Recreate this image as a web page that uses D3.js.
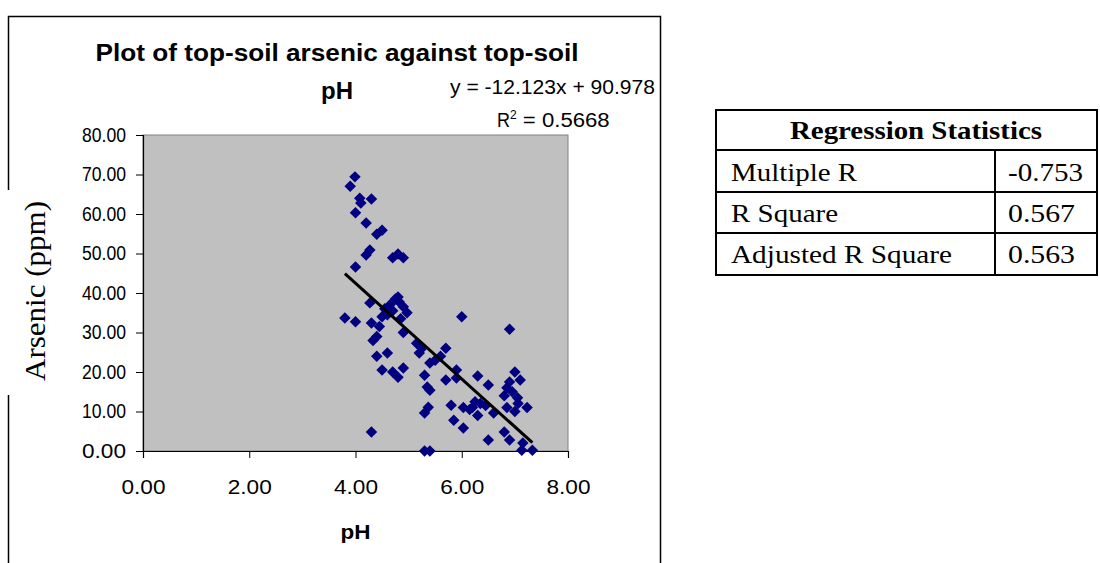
<!DOCTYPE html>
<html>
<head>
<meta charset="utf-8">
<script src="https://cdn.jsdelivr.net/npm/d3@7"></script>
<style>
  body { margin: 0; background: #fff; }
  svg { display: block; }
</style>
</head>
<body>
<div id="chart"></div>
<script>
// soil samples
var phValues = [3.99, 3.9, 4.08, 4.1, 4.3, 4.0, 4.2, 4.4, 4.5, 4.27, 4.2, 4.0, 4.8, 4.7, 4.9,
  4.27, 4.65, 4.75, 4.82, 4.9, 4.97, 4.7, 4.6, 4.5, 4.85, 4.55, 4.8,
  3.8, 4.0, 4.3, 4.33, 4.4, 4.4, 4.6, 4.5, 4.7, 4.8, 4.9, 4.9, 4.3, 4.45,
  5.15, 5.2, 5.4, 5.3, 5.35, 5.4, 5.37, 5.3, 5.3, 5.4, 5.7, 5.6, 5.7, 5.9, 5.9, 5.5, 5.25,
  6.0, 6.9, 6.3, 6.5, 7.0, 7.1, 6.85, 6.8, 5.8, 6.03, 6.2, 6.35, 6.3, 6.6, 6.85, 7.06, 7.23,
  5.85, 6.03, 6.5, 6.8, 6.9, 7.13, 7.33, 7.15, 6.95, 7.05, 6.9, 6.45, 6.25, 7.0, 6.15];
var arsenicValues = [69.4, 67, 64, 62.8, 63.8, 60.3, 57.7, 54.9, 55.9, 50.9, 49.6, 46.6, 49.9, 48.9, 48.9,
  37.5, 37, 38.5, 37.8, 36.5, 35, 35.5, 34.5, 34, 33.5, 36, 39,
  33.7, 32.7, 32.4, 28, 29, 24, 24.8, 20.5, 20, 18.7, 21, 30, 4.8, 31.5,
  27.3, 24.8, 22.3, 19.2, 16.2, 15.4, 11.1, 9.6, 0, 0, 26, 24, 18, 18.5, 20.5, 23, 26,
  34, 30.8, 19, 16.7, 20, 18, 16, 14, 11.6, 11, 11, 12, 9, 9.6, 11, 12, 11,
  7.8, 5.8, 2.8, 4.8, 2.8, 0.2, 0.2, 2, 15, 13.5, 17.5, 11.5, 12.5, 10, 10.5];

var xTicks = [0, 2, 4, 6, 8];
var yTicks = [0, 10, 20, 30, 40, 50, 60, 70, 80];

var slope = -12.123;
var intercept = 90.978;

var statNames = ['Multiple R', 'R Square', 'Adjusted R Square'];
var statValues = ['-0.753', '0.567', '0.563'];

var W = 1100, H = 563;

var svg = d3.select('#chart')
  .append('svg')
  .attr('width', W)
  .attr('height', H);

var sans = '"Liberation Sans", Arial, sans-serif';
var serif = '"Liberation Serif", "Times New Roman", serif';

// outer chart frame
svg.append('rect')
  .attr('x', 8.5).attr('y', 16.5)
  .attr('width', 652).attr('height', 600)
  .attr('fill', '#fff')
  .attr('stroke', '#000')
  .attr('stroke-width', 1.5);

var x = d3.scaleLinear().domain([0, 8]).range([143, 568]);
var y = d3.scaleLinear().domain([0, 80]).range([451, 135]);

// plot area
svg.append('rect')
  .attr('x', x(0)).attr('y', y(80))
  .attr('width', x(8) - x(0)).attr('height', y(0) - y(80))
  .attr('fill', '#c0c0c0')
  .attr('stroke', '#808080')
  .attr('stroke-width', 1);

var yAxis = svg.append('g')
  .attr('transform', `translate(${x(0)},0)`)
  .call(d3.axisLeft(y).tickValues(yTicks).tickSize(7).tickPadding(10).tickFormat(d3.format('.2f')));

var xAxis = svg.append('g')
  .attr('transform', `translate(0,${y(0)})`)
  .call(d3.axisBottom(x).tickValues(xTicks).tickSize(7).tickPadding(22).tickFormat(d3.format('.2f')));

[yAxis, xAxis].forEach(function(g) {
  g.select('.domain').attr('stroke', '#000').attr('stroke-width', 1.2);
  g.selectAll('.tick line').attr('stroke', '#000');
  g.selectAll('.tick text')
    .attr('fill', '#000')
    .attr('textLength', 44).attr('lengthAdjust', 'spacingAndGlyphs')
    .style('font-family', sans)
    .style('font-size', '20px');
});

// points
var pts = phValues.map(function(p, i) { return [p, arsenicValues[i]]; });
var diamond = d3.symbol().type(d3.symbolSquare).size(66);

svg.append('g')
  .selectAll('path')
  .data(pts)
  .enter()
  .append('path')
  .attr('d', diamond)
  .attr('transform', d => `translate(${x(d[0])},${y(d[1])}) rotate(45)`)
  .attr('fill', '#000080');

// trend line across the pH range
var ext = d3.extent(phValues);
svg.append('line')
  .attr('x1', x(ext[0])).attr('y1', y(slope * ext[0] + intercept))
  .attr('x2', x(ext[1])).attr('y2', y(slope * ext[1] + intercept))
  .attr('stroke', '#000')
  .attr('stroke-width', 3);

// titles
svg.append('text')
  .attr('x', 337).attr('y', 61)
  .attr('text-anchor', 'middle')
  .attr('textLength', 483).attr('lengthAdjust', 'spacingAndGlyphs')
  .style('font-family', sans).style('font-size', '23px').style('font-weight', 'bold')
  .text('Plot of top-soil arsenic against top-soil');

svg.append('text')
  .attr('x', 337).attr('y', 99)
  .attr('text-anchor', 'middle')
  .attr('textLength', 32).attr('lengthAdjust', 'spacingAndGlyphs')
  .style('font-family', sans).style('font-size', '23px').style('font-weight', 'bold')
  .text('pH');

svg.append('text')
  .attr('x', 450).attr('y', 94)
  .attr('textLength', 205).attr('lengthAdjust', 'spacingAndGlyphs')
  .style('font-family', sans).style('font-size', '20px')
  .text('y = -12.123x + 90.978');

var r2 = svg.append('text')
  .attr('x', 497).attr('y', 127)
  .style('font-family', sans).style('font-size', '20px');
r2.append('tspan').attr('textLength', 13).attr('lengthAdjust', 'spacingAndGlyphs').text('R');
r2.append('tspan').attr('dy', -8).style('font-size', '12px').text('2');
r2.append('tspan').attr('dy', 8).attr('textLength', 93).attr('lengthAdjust', 'spacingAndGlyphs').text(' = 0.5668');

svg.append('text')
  .attr('x', x(4)).attr('y', 539)
  .attr('text-anchor', 'middle')
  .attr('textLength', 30).attr('lengthAdjust', 'spacingAndGlyphs')
  .style('font-family', sans).style('font-size', '21px').style('font-weight', 'bold')
  .text('pH');

// y title sits on a white box that breaks the frame
svg.append('rect')
  .attr('x', 4).attr('y', 190)
  .attr('width', 44).attr('height', 205)
  .attr('fill', '#fff');

svg.append('text')
  .attr('transform', 'translate(45,291) rotate(-90)')
  .attr('text-anchor', 'middle')
  .attr('textLength', 180).attr('lengthAdjust', 'spacingAndGlyphs')
  .style('font-family', serif).style('font-size', '29px')
  .text('Arsenic (ppm)');

// regression statistics table
var tLeft = 716, tRight = 1097, tTop = 110, colX = 995;
var rowLines = [150, 192, 233, 275];
var tbl = svg.append('g');

tbl.append('rect')
  .attr('x', tLeft).attr('y', tTop)
  .attr('width', tRight - tLeft).attr('height', rowLines[3] - tTop)
  .attr('fill', 'none').attr('stroke', '#000').attr('stroke-width', 2);

tbl.selectAll('.hl')
  .data(rowLines.slice(0, 3))
  .enter()
  .append('line')
  .attr('x1', tLeft).attr('x2', tRight)
  .attr('y1', d => d).attr('y2', d => d)
  .attr('stroke', '#000').attr('stroke-width', 2);

tbl.append('line')
  .attr('x1', colX).attr('x2', colX)
  .attr('y1', rowLines[0]).attr('y2', rowLines[3])
  .attr('stroke', '#000').attr('stroke-width', 2);

tbl.append('text')
  .attr('x', 916).attr('y', 139)
  .attr('text-anchor', 'middle')
  .attr('textLength', 252).attr('lengthAdjust', 'spacingAndGlyphs')
  .style('font-family', serif).style('font-size', '25px').style('font-weight', 'bold')
  .text('Regression Statistics');

var nameW = [126, 107, 221];
var valW = [75, 67, 67];
var rowBase = [181, 222, 263];

tbl.selectAll('.nm')
  .data(statNames)
  .enter()
  .append('text')
  .attr('x', 731)
  .attr('y', (d, i) => rowBase[i])
  .attr('textLength', (d, i) => nameW[i]).attr('lengthAdjust', 'spacingAndGlyphs')
  .style('font-family', serif).style('font-size', '25px')
  .text(d => d);

tbl.selectAll('.vl')
  .data(statValues)
  .enter()
  .append('text')
  .attr('x', 1008)
  .attr('y', (d, i) => rowBase[i])
  .attr('textLength', (d, i) => valW[i]).attr('lengthAdjust', 'spacingAndGlyphs')
  .style('font-family', serif).style('font-size', '25px')
  .text(d => d);
</script>
</body>
</html>
